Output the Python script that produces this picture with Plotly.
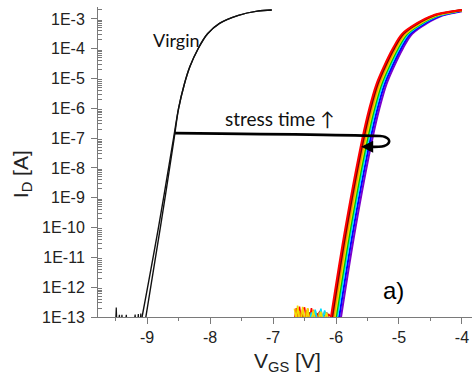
import plotly.graph_objects as go

# ---------------- data ----------------
# Virgin transfer curves: V_GS [V] vs log10(I_D [A])
virgin_logI = [-13.0, -10.0, -7.0, -6.0, -5.2, -4.6, -4.0, -3.5, -3.15, -2.88, -2.74, -2.70]
virgin_A_V = [-9.02, -8.79, -8.57, -8.50, -8.41, -8.32, -8.19, -8.04, -7.85, -7.55, -7.25, -7.02]
virgin_B_V = [-9.08, -8.82, -8.58, -8.50, -8.41, -8.32, -8.19, -8.04, -7.85, -7.55, -7.25, -7.02]

# noise floor of the virgin sweep
virgin_noise_V = [-9.53, -9.50, -9.49, -9.48, -9.46, -9.44, -9.43, -9.41, -9.40, -9.39, -9.35, -9.33,
                  -9.32, -9.28, -9.21, -9.19, -9.18, -9.15, -9.14, -9.13, -9.11, -9.10, -9.09]
virgin_noise_logI = [-13.2, -13.2, -12.68, -13.2, -13.2, -12.93, -13.2, -13.2, -12.93, -13.2, -13.2, -12.93,
                     -13.2, -13.2, -13.2, -12.92, -13.2, -13.2, -12.90, -13.2, -13.2, -12.88, -13.2]

# Stressed curves (leftmost / red curve shape)
stress_logI = [-13.0, -10.0, -7.0, -6.0, -5.2, -4.6, -4.0, -3.5, -3.15, -2.88, -2.76]
stress_V = [-6.08, -5.85, -5.58, -5.47, -5.36, -5.24, -5.10, -4.95, -4.72, -4.46, -4.20]
stress_end_V = -4.0
stress_names = ["t1", "t2", "t3", "t4", "t5", "t6", "t7", "t8"]
stress_colors = ["#ff0000", "#7a0000", "#ff8c00", "#f0e000", "#00c000", "#00e0ff", "#0000ff", "#7a00cc"]
stress_shift = [0.00, 0.02, 0.04, 0.06, 0.08, 0.10, 0.13, 0.16]
stress_end_logI = [-2.70, -2.70, -2.71, -2.71, -2.72, -2.72, -2.73, -2.74]

# noise floor of the stressed sweeps
stress_noise_V = [-6.66, -6.63, -6.61, -6.58, -6.55, -6.53, -6.50, -6.47, -6.45, -6.42,
                  -6.39, -6.36, -6.33, -6.30, -6.27, -6.24, -6.21, -6.18, -6.15, -6.12]
stress_noise_logI = [
    [-13.1, -12.70, -13.1, -12.65, -13.1, -12.75, -12.68, -13.1, -12.72, -13.1, -12.70, -13.1, -12.80, -13.1, -12.85, -12.78, -13.1, -12.82, -13.1, -12.90],
    [-13.1, -13.1, -12.85, -13.1, -13.1, -12.90, -13.1, -13.1, -13.1, -12.85, -13.1, -13.1, -13.1, -12.88, -13.1, -13.1, -13.1, -13.1, -12.90, -13.1],
    [-13.1, -13.1, -13.1, -12.80, -13.1, -13.1, -13.1, -12.78, -13.1, -13.1, -13.1, -12.75, -13.1, -13.1, -12.85, -13.1, -13.1, -13.1, -13.1, -13.1],
    [-12.72, -13.1, -12.62, -13.1, -13.1, -12.66, -13.1, -13.1, -12.70, -13.1, -13.1, -12.80, -13.1, -13.1, -13.1, -12.82, -13.1, -13.1, -12.85, -13.1],
    [-13.1, -13.1, -13.1, -13.1, -13.1, -13.1, -13.1, -13.1, -13.1, -13.1, -13.1, -13.1, -13.1, -13.1, -12.90, -13.1, -13.1, -13.1, -13.1, -13.1],
    [-13.1, -13.1, -13.1, -13.1, -13.1, -13.1, -13.1, -13.1, -13.1, -13.1, -12.85, -13.1, -12.75, -13.1, -13.1, -12.72, -13.1, -12.78, -13.1, -13.1],
    [-13.1, -13.1, -13.1, -13.1, -13.1, -13.1, -13.1, -13.1, -13.1, -13.1, -13.1, -13.1, -13.1, -13.1, -13.1, -12.88, -13.1, -13.1, -12.85, -13.1],
    [-13.1, -13.1, -13.1, -13.1, -13.1, -13.1, -13.1, -13.1, -13.1, -13.1, -13.1, -13.1, -13.1, -13.1, -13.1, -13.1, -13.1, -13.1, -12.92, -13.1],
]
noise_draw_order = [7, 6, 4, 1, 0, 2, 5, 3]

# "stress time" bracket path (V, log10 I)
bracket_V = [-8.556, -5.30, -5.22, -5.17, -5.155, -5.175, -5.235, -5.32, -5.52]
bracket_logI = [-6.83, -6.93, -6.96, -7.03, -7.11, -7.19, -7.26, -7.29, -7.29]

# tick labels
x_tickvals = [-9, -8, -7, -6, -5, -4]
x_ticktext = ["-9", "-8", "-7", "-6", "-5", "-4"]
y_exponents = [-3, -4, -5, -6, -7, -8, -9, -10, -11, -12, -13]
y_ticktext = ["1E%d" % e for e in y_exponents]

# ---------------- figure ----------------
fig = go.Figure()

def pw(vals):
    return [10 ** v for v in vals]

# noise floors of stressed sweeps
for i in noise_draw_order:
    xs = stress_noise_V + [stress_V[0] + stress_shift[i]]
    ys = stress_noise_logI[i] + [stress_logI[0]]
    fig.add_trace(go.Scatter(x=xs, y=pw(ys), mode="lines",
                             line=dict(color=stress_colors[i], width=1.6),
                             showlegend=False, hoverinfo="skip"))

# stressed curves (drawn right to left so red sits on top at the left edge)
for i in reversed(range(len(stress_names))):
    xs = [v + stress_shift[i] for v in stress_V] + [stress_end_V]
    ys = stress_logI + [stress_end_logI[i]]
    fig.add_trace(go.Scatter(x=xs, y=pw(ys), mode="lines",
                             line=dict(color=stress_colors[i], width=2, shape="spline", smoothing=1.0),
                             name=stress_names[i], showlegend=False, hoverinfo="skip"))

# virgin curves
fig.add_trace(go.Scatter(x=virgin_noise_V + [virgin_B_V[0]], y=pw(virgin_noise_logI + [virgin_logI[0]]),
                         mode="lines", line=dict(color="#111111", width=1.2),
                         showlegend=False, hoverinfo="skip"))
for vv in (virgin_B_V, virgin_A_V):
    fig.add_trace(go.Scatter(x=vv, y=pw(virgin_logI), mode="lines",
                             line=dict(color="#111111", width=1.4, shape="spline", smoothing=1.0),
                             showlegend=False, hoverinfo="skip"))

# bracket
fig.add_trace(go.Scatter(x=bracket_V, y=pw(bracket_logI), mode="lines",
                         line=dict(color="black", width=2.6, shape="spline", smoothing=0.6),
                         showlegend=False, hoverinfo="skip"))

tick_font = dict(family="Arial, Liberation Sans, sans-serif", size=16, color="#222222")
axis_color = "#7a7a7a"

fig.update_xaxes(range=[-9.78, -3.84], showline=True, linecolor=axis_color, linewidth=1,
                 tickmode="array", tickvals=x_tickvals, ticktext=x_ticktext,
                 ticks="outside", ticklen=6, tickcolor=axis_color, tickfont=tick_font,
                 showgrid=False, zeroline=False, mirror=False,
                 minor=dict(tickmode="array", tickvals=[-9.5, -8.5, -7.5, -6.5, -5.5, -4.5],
                            ticks="outside", ticklen=3, tickcolor=axis_color))

y_minor = [k * 10.0 ** e for e in range(-13, -2) for k in range(2, 10)]
fig.update_yaxes(type="log", range=[-13, -2.6], showline=True, linecolor=axis_color, linewidth=1,
                 tickmode="array", tickvals=[10.0 ** e for e in y_exponents], ticktext=y_ticktext,
                 ticks="outside", ticklen=6, tickcolor=axis_color, tickfont=tick_font,
                 ticklabelstandoff=3,
                 showgrid=False, zeroline=False, mirror=False,
                 minor=dict(tickmode="array", tickvals=y_minor, ticks="inside", ticklen=4,
                            tickcolor=axis_color))

annotations = [
    dict(text="V<sub>GS</sub> [V]", x=0.508, y=-0.145, xref="paper", yref="paper",
         showarrow=False, xanchor="center", yanchor="middle",
         font=dict(family="Arial, Liberation Sans, sans-serif", size=21, color="#222222")),
    dict(text="I<sub>D</sub> [A]", x=-0.203, y=0.461, xref="paper", yref="paper",
         showarrow=False, xanchor="center", yanchor="middle", textangle=-90,
         font=dict(family="Arial, Liberation Sans, sans-serif", size=21, color="#222222")),
    dict(text="a)", x=0.791, y=0.084, xref="paper", yref="paper",
         showarrow=False, xanchor="center", yanchor="middle",
         font=dict(family="Arial, Liberation Sans, sans-serif", size=24, color="black")),
    dict(text="Virgin", x=0.2086, y=0.894, xref="paper", yref="paper",
         showarrow=False, xanchor="center", yanchor="middle",
         font=dict(family="Lato, Open Sans, sans-serif", size=18, color="#111111")),
    dict(text="stress time \u2191", x=0.484, y=0.639, xref="paper", yref="paper",
         showarrow=False, xanchor="center", yanchor="middle",
         font=dict(family="Lato, Open Sans, sans-serif", size=19, color="#111111")),
    # arrow head of the bracket
    dict(x=-5.60, y=-7.29, ax=-5.45, ay=-7.29, xref="x", yref="y", axref="x", ayref="y",
         text="", showarrow=True, arrowhead=2, arrowsize=1, arrowwidth=2.4, arrowcolor="black",
         standoff=0, startstandoff=0),
]

fig.update_layout(width=472, height=381, margin=dict(l=98, r=0, t=7, b=64),
                  paper_bgcolor="white", plot_bgcolor="white",
                  annotations=annotations, showlegend=False)

fig.write_html("out.html")
